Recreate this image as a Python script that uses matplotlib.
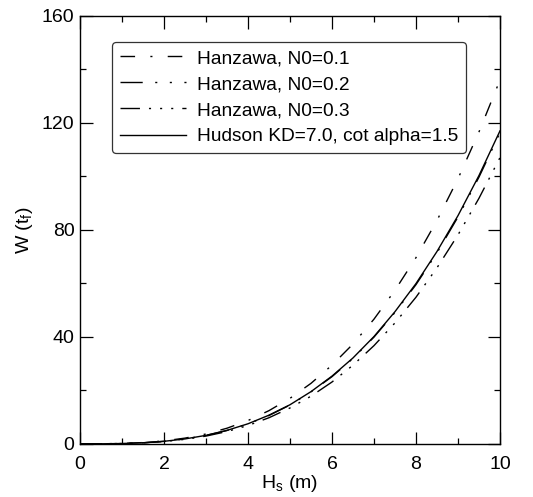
"""Armour unit weight vs significant wave height: Hanzawa curves against Hudson."""

import matplotlib

matplotlib.use("Agg")
import matplotlib.pyplot as plt
from matplotlib.ticker import MultipleLocator

plt.rcParams["font.family"] = ["Liberation Sans", "DejaVu Sans"]
plt.rcParams["mathtext.fontset"] = "custom"
plt.rcParams["mathtext.rm"] = "Liberation Sans"

# significant wave height (m)
hs = [0.0, 0.5, 1.0, 1.5, 2.0, 2.5, 3.0, 3.5, 4.0, 4.5, 5.0,
      5.5, 6.0, 6.5, 7.0, 7.5, 8.0, 8.5, 9.0, 9.5, 10.0]

# armour weight W (t)
w_hanzawa_01 = [0.0, 0.02, 0.14, 0.46, 1.09, 2.13, 3.67, 5.83, 8.70, 12.4, 17.0,
                22.6, 29.4, 37.3, 46.6, 57.4, 69.6, 83.5, 99.1, 116.6, 136.0]
w_hanzawa_02 = [0.0, 0.01, 0.12, 0.39, 0.93, 1.82, 3.14, 4.99, 7.44, 10.6, 14.5,
                19.4, 25.1, 31.9, 39.9, 49.1, 59.5, 71.4, 84.8, 99.7, 116.3]
w_hanzawa_03 = [0.0, 0.01, 0.11, 0.36, 0.86, 1.67, 2.89, 4.59, 6.85, 9.75, 13.4,
                17.8, 23.1, 29.4, 36.7, 45.2, 54.8, 65.8, 78.1, 91.8, 107.0]
w_hudson = [0.0, 0.01, 0.12, 0.39, 0.94, 1.83, 3.16, 5.02, 7.49, 10.7, 14.6,
            19.5, 25.3, 32.1, 40.1, 49.4, 59.9, 71.9, 85.3, 100.3, 117.0]

labels = [
    "Hanzawa, N0=0.1",
    "Hanzawa, N0=0.2",
    "Hanzawa, N0=0.3",
    "Hudson KD=7.0, cot alpha=1.5",
]

fig = plt.figure(figsize=(5.33, 4.97), dpi=100)
ax = fig.add_axes([0.150, 0.107, 0.788, 0.861])

ax.plot(hs, w_hanzawa_01, color="black", lw=1.0,
        linestyle=(0, (10.5, 11, 1.5, 11)), label=labels[0])
ax.plot(hs, w_hanzawa_02, color="black", lw=1.0,
        linestyle=(0, (16, 9, 1.5, 9, 1.5, 9)), label=labels[1])
ax.plot(hs, w_hanzawa_03, color="black", lw=1.0,
        linestyle=(0, (14, 6.5, 1.5, 6.5, 1.5, 6.5, 1.5, 6.5)), label=labels[2])
ax.plot(hs, w_hudson, color="black", lw=1.0, linestyle="-", label=labels[3])

ax.set_xlim(0, 10)
ax.set_ylim(0, 160)
ax.xaxis.set_major_locator(MultipleLocator(2))
ax.xaxis.set_minor_locator(MultipleLocator(1))
ax.yaxis.set_major_locator(MultipleLocator(40))
ax.yaxis.set_minor_locator(MultipleLocator(20))
ax.tick_params(which="both", direction="in", top=True, right=True,
               labelsize=14, width=0.9)
ax.tick_params(which="major", length=9)
ax.tick_params(which="minor", length=4.5)
ax.tick_params(axis="x", which="major", pad=9)
ax.tick_params(axis="y", which="major", pad=4)
for spine in ax.spines.values():
    spine.set_linewidth(1.0)

ax.set_xlabel(r"H$_\mathregular{s}$ (m)", fontsize=14, labelpad=0)
ax.set_ylabel(r"W (t$_\mathregular{f}$)", fontsize=14, labelpad=5)

leg = ax.legend(loc="upper left", bbox_to_anchor=(0.076, 0.939), fontsize=13.8,
                handlelength=3.45, handletextpad=0.6, labelspacing=0.45,
                borderpad=0.4, borderaxespad=0.0, fancybox=True, frameon=True)
leg.get_frame().set_edgecolor("black")
leg.get_frame().set_linewidth(0.9)

fig.savefig("out.png", dpi=100)
